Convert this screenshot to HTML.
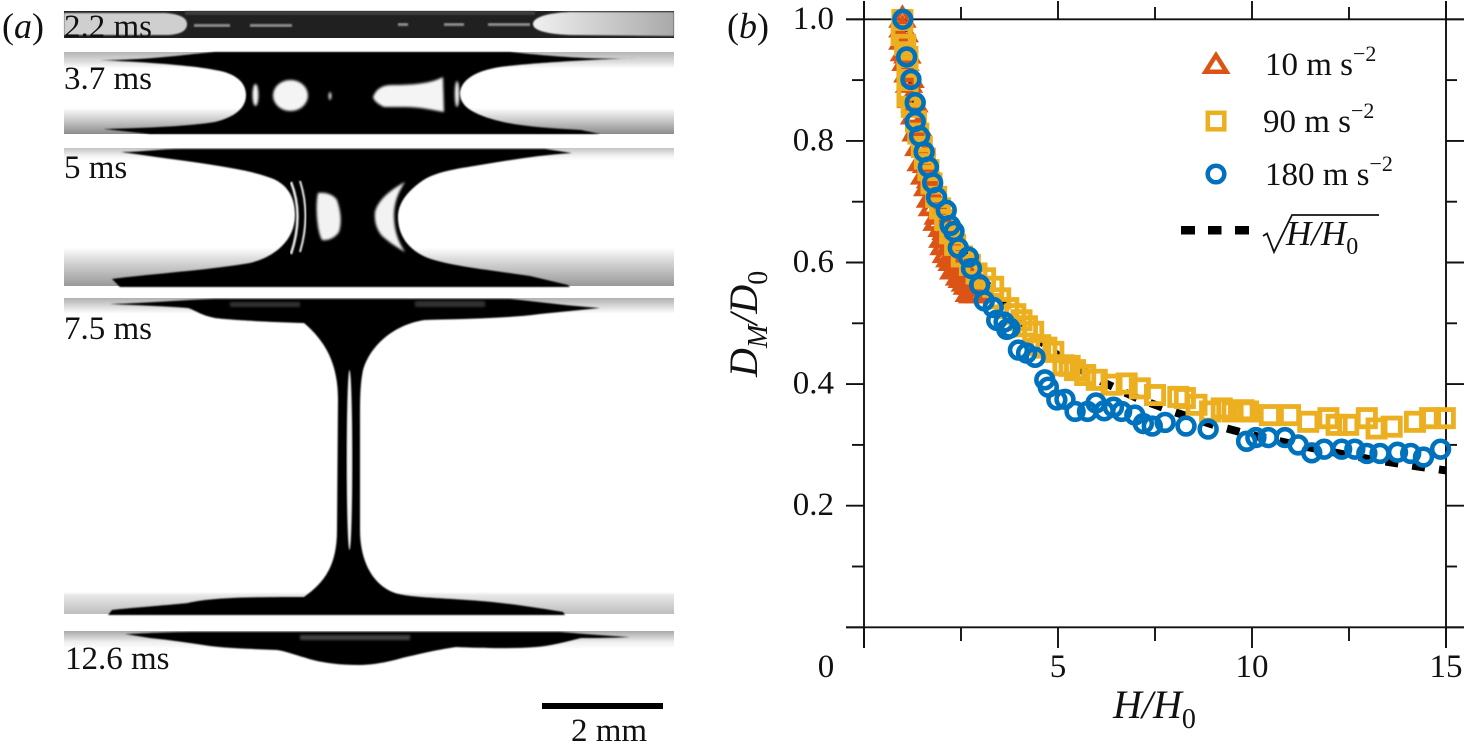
<!DOCTYPE html>
<html lang="en">
<head>
<meta charset="utf-8">
<title>Liquid bridge images and neck diameter chart</title>
<style>
html,body{margin:0;padding:0;background:#fff;}
svg{display:block;}
text{font-family:"Liberation Serif",serif;fill:#111;}
.it{font-style:italic;}
</style>
</head>
<body>
<svg id="fig" xmlns="http://www.w3.org/2000/svg" width="1464" height="751" viewBox="0 0 1464 751">
<defs>
<filter id="soft" x="-5%" y="-5%" width="110%" height="110%"><feGaussianBlur stdDeviation="0.8"/></filter>
<filter id="soft2" x="-30%" y="-30%" width="160%" height="160%"><feGaussianBlur stdDeviation="1.2"/></filter>
<linearGradient id="g2" x1="0" y1="0" x2="0" y2="1"><stop offset="0" stop-color="#b5b5b5"/><stop offset=".12" stop-color="#ddd"/><stop offset=".2" stop-color="#fff"/><stop offset=".68" stop-color="#fff"/><stop offset=".82" stop-color="#cfcfcf"/><stop offset="1" stop-color="#8c8c8c"/></linearGradient>
<linearGradient id="g3" x1="0" y1="0" x2="0" y2="1"><stop offset="0" stop-color="#c4c4c4"/><stop offset=".06" stop-color="#f4f4f4"/><stop offset=".09" stop-color="#fff"/><stop offset=".72" stop-color="#fff"/><stop offset=".8" stop-color="#dedede"/><stop offset="1" stop-color="#999"/></linearGradient>
<linearGradient id="g4" x1="0" y1="0" x2="0" y2="1"><stop offset="0" stop-color="#b0b0b0"/><stop offset=".035" stop-color="#e8e8e8"/><stop offset=".05" stop-color="#fff"/><stop offset=".93" stop-color="#fff"/><stop offset=".94" stop-color="#e8e8e8"/><stop offset="1" stop-color="#bdbdbd"/></linearGradient>
<linearGradient id="g5" x1="0" y1="0" x2="0" y2="1"><stop offset="0" stop-color="#a8a8a8"/><stop offset=".6" stop-color="#eee"/><stop offset="1" stop-color="#fff"/></linearGradient>
<linearGradient id="g1r" x1="0" y1="0" x2="1" y2="0"><stop offset="0" stop-color="#f0f0f0"/><stop offset="1" stop-color="#a9a9a9"/></linearGradient>
</defs>

<g>
  <text x="2" y="38" font-size="36">(<tspan class="it">a</tspan>)</text>

  <g>
    <rect x="64" y="11" width="610" height="27" fill="#202020"/>
    <rect x="185" y="11" width="350" height="4" fill="#3c3c3c" filter="url(#soft)"/>
    <path d="M64 13H165C180 14 187 18 187 24C187 31 180 35 165 35H64Z" fill="#cfcfcf" filter="url(#soft)"/>
    <path d="M674 12H570C545 13 533 18 533 24C533 30 545 34 570 35L674 36Z" fill="url(#g1r)" filter="url(#soft)"/>
    <g fill="#8a8a8a" filter="url(#soft)">
      <rect x="194" y="24" width="36" height="3"/><rect x="250" y="24" width="42" height="3"/><rect x="398" y="23" width="10" height="3"/><rect x="444" y="23" width="20" height="3"/><rect x="488" y="23" width="42" height="3"/>
    </g>
  </g>

  <g>
    <rect x="64" y="52" width="610" height="82" fill="url(#g2)"/>
    <path d="M100 60C150 60 180 55 215 52L510 52C550 56 590 60 640 58C600 59 530 63 500 67C475 71 461 80 460 93C460 105 470 113 495 120C520 127 550 128 581 130L600 134L150 134L103 129C150 128 190 126 215 122C235 117 246 108 246 95C246 82 235 73 215 70C190 65 140 62 100 60Z" fill="#000" filter="url(#soft)"/>
    <g fill="#f4f4f4" filter="url(#soft2)">
      <ellipse cx="255.500" cy="95" rx="3" ry="11"/>
      <ellipse cx="290.500" cy="95.500" rx="17.500" ry="15.500"/>
      <path d="M373 97C376 89 382 85 392 85C410 85 430 84 443 77L444 112C432 110 420 107 405 107L384 107C378 104 374 101 373 97Z"/>
      <ellipse cx="457" cy="94" rx="2.200" ry="13"/>
      <ellipse cx="330" cy="96" rx="1.300" ry="4"/>
    </g>
  </g>

  <g>
    <rect x="64" y="148" width="610" height="138" fill="url(#g3)"/>
    <path d="M121 152C140 152 160 149 180 149L545 149L572 153C540 155 510 160 480 165C455 169 435 172 422 181C405 193 398 205 398 217C398 235 408 250 428 258C450 266 490 270 530 276L568 285L570 287L120 287L112 279C150 274 210 270 250 263C275 257 295 240 295 215C295 198 288 183 268 177C240 167 190 162 121 152Z" fill="#000" filter="url(#soft)"/>
    <g fill="#f2f2f2" filter="url(#soft2)">
      <path d="M318 193C325 192 333 194 337 200C341 212 342 222 339 232C335 238 328 241 322 240C317 232 315 205 318 193Z"/>
      <path d="M405 182C390 190 378 200 375 212C374 222 377 230 382 236C390 243 398 248 405 252C397 240 394 228 394 215C394 204 398 192 405 182Z"/>
    </g>
    <g fill="none" stroke="#f0f0f0" filter="url(#soft)">
      <path d="M291 182Q304 215 291 254" stroke-width="2.500"/>
      <path d="M300 181Q311 215 300 252" stroke-width="2"/>
    </g>
  </g>

  <g>
    <rect x="64" y="298" width="610" height="316" fill="url(#g4)"/>
    <path d="M110 304C150 303 180 300 215 299L510 299C540 302 570 306 600 308C580 310 560 312 540 314C510 318 470 319 425 320C395 324 370 345 363 370C360 385 360 400 360 420L360 530C360 560 372 585 395 593C410 598 450 598 492 602C520 605 545 609 563 612L565 615L108 615L112 610C140 607 170 605 188 603C210 598 240 597 304 597C325 582 337 565 337 530L338 400C338 370 330 345 304 323C270 322 230 320 215 318C200 315 195 310 188 308C160 306 130 305 110 304Z" fill="#000" filter="url(#soft)"/>
    <ellipse cx="349.500" cy="460" rx="2.800" ry="90" fill="#f2f2f2" filter="url(#soft)"/>
    <rect x="230" y="302" width="70" height="5" fill="#333" filter="url(#soft2)"/>
    <rect x="415" y="301" width="70" height="6" fill="#333" filter="url(#soft2)"/>
  </g>

  <g>
    <rect x="64" y="631" width="610" height="18" fill="url(#g5)"/>
    <path d="M125 634C150 633 170 632 200 632L560 632C585 634 610 636 630 637C610 638 595 638 581 638C565 642 550 646 536 647C510 649 480 648 456 647C435 650 415 655 402 658C385 663 370 665 358 665C340 665 325 663 313 660C295 655 285 651 277 650C250 649 225 648 210 646C190 643 170 640 150 638Z" fill="#000" filter="url(#soft)"/>
    <rect x="300" y="635" width="110" height="5" fill="#444" filter="url(#soft2)"/>
  </g>

  <text x="64" y="37" font-size="33">2.2 ms</text>
  <text x="64" y="89" font-size="33">3.7 ms</text>
  <text x="64" y="178" font-size="33">5 ms</text>
  <text x="64" y="339" font-size="33">7.5 ms</text>
  <text x="65" y="669" font-size="33">12.6 ms</text>
  <rect x="542" y="703" width="121" height="6" fill="#000"/>
  <text x="609" y="741" font-size="33" text-anchor="middle">2 mm</text>
</g>

<g id="chart">
  <text x="727" y="38" font-size="36">(<tspan class="it">b</tspan>)</text>
  <text x="1113" y="718" font-size="40" class="it">H/H<tspan font-size="28" dy="10" style="font-style:normal">0</tspan></text>
  <text transform="translate(757,377) rotate(-90)" font-size="40" class="it">D<tspan font-size="28" dy="10">M</tspan><tspan dy="-10">/D</tspan><tspan font-size="28" dy="10" style="font-style:normal">0</tspan></text>
  <g id="axes"></g>
  <g id="marks"></g>
  <g>
    <path d="M1216 55.200L1226.500 71.800L1205.500 71.800Z" fill="none" stroke="#dc5316" stroke-width="4.500"/>
    <text x="1265" y="75" font-size="33">10 m s<tspan font-size="22" dy="-14">−2</tspan></text>
    <rect x="1207.800" y="112.800" width="16.500" height="16.500" fill="none" stroke="#ecaf1f" stroke-width="4.500"/>
    <text x="1263" y="132" font-size="33">90 m s<tspan font-size="22" dy="-14">−2</tspan></text>
    <circle cx="1216" cy="174" r="8.300" fill="none" stroke="#0072bd" stroke-width="4.500"/>
    <text x="1265" y="185" font-size="33">180 m s<tspan font-size="22" dy="-14">−2</tspan></text>
    <g fill="#000">
      <rect x="1181" y="226" width="14" height="8.500"/><rect x="1208" y="226" width="13.500" height="8.500"/><rect x="1235" y="226" width="14" height="8.500"/>
    </g>
    <path d="M1263 236L1267 233.500L1274 252L1292 215H1379" fill="none" stroke="#111" stroke-width="1.800"/>
    <text x="1286" y="245" font-size="35" class="it">H/H<tspan font-size="24" dy="9" style="font-style:normal">0</tspan></text>
  </g>
</g>
</svg>
<script>
var xTickValues = [0, 2.5, 5, 7.5, 10, 12.5, 15];
var yTickValues = [0, 0.1, 0.2, 0.3, 0.4, 0.5, 0.6, 0.7, 0.8, 0.9, 1.0];
var xTickLabels = ["0", "", "5", "", "10", "", "15"];
var yTickLabels = ["", "", "0.2", "", "0.4", "", "0.6", "", "0.8", "", "1.0"];

var guideH = [1, 1.25, 1.5, 2, 2.5, 3, 4, 5, 6, 7, 8, 9, 10, 11, 12, 13, 14, 15];
var guideD = [1, 0.894, 0.816, 0.707, 0.632, 0.577, 0.5, 0.447, 0.408, 0.378, 0.354, 0.333, 0.316, 0.302, 0.289, 0.277, 0.267, 0.258];

var triH = [0.99, 0.99, 0.99, 1.03, 1.07, 1.12, 1.16, 1.21, 1.29, 1.33, 1.40, 1.46, 1.55, 1.63, 1.70, 1.75, 1.87, 2.02, 2.11, 2.26, 2.41, 2.52, 2.80, 2.65, 2.79, 2.90, 2.95, 1.05, 1.12, 1.2, 1.3, 1.4, 1.5, 1.6, 1.7, 1.8, 1.95, 2.1, 2.25, 2.4, 2.55, 2.7, 2.85, 2.05, 2.2, 2.3, 2.35, 2.45, 2.5, 2.6, 2.75, 2.0, 1.9, 2.7, 3.0];
var triD = [0.999, 0.983, 0.963, 0.944, 0.928, 0.909, 0.892, 0.867, 0.840, 0.812, 0.788, 0.763, 0.741, 0.722, 0.703, 0.689, 0.665, 0.637, 0.612, 0.599, 0.585, 0.571, 0.546, 0.560, 0.546, 0.546, 0.546, 0.975, 0.94, 0.9, 0.86, 0.82, 0.79, 0.76, 0.735, 0.705, 0.68, 0.65, 0.63, 0.61, 0.595, 0.575, 0.56, 0.625, 0.605, 0.585, 0.6, 0.575, 0.59, 0.565, 0.56, 0.655, 0.675, 0.548, 0.56];

var squareH = [0.99, 0.97, 1.06, 1.12, 1.12, 1.12, 1.12, 1.23, 1.34, 1.40, 1.49, 1.57, 1.66, 1.74, 1.86, 1.96, 2.09, 2.22, 2.35, 2.52, 2.73, 2.90, 3.12, 3.33, 3.51, 3.72, 3.90, 4.06, 4.20, 4.36, 4.54, 4.70, 4.88, 5.14, 5.30, 5.44, 5.70, 6.00, 6.38, 6.77, 7.11, 7.50, 8.10, 8.27, 8.57, 8.92, 9.22, 9.50, 9.78, 9.90, 10.46, 10.98, 11.45, 11.97, 12.18, 12.48, 12.96, 13.21, 13.60, 14.20, 14.59, 14.97];
var squareD = [0.999, 0.974, 0.958, 0.938, 0.922, 0.900, 0.873, 0.856, 0.832, 0.812, 0.790, 0.771, 0.752, 0.730, 0.708, 0.689, 0.670, 0.648, 0.629, 0.610, 0.596, 0.582, 0.574, 0.560, 0.541, 0.525, 0.515, 0.505, 0.495, 0.486, 0.464, 0.460, 0.453, 0.431, 0.430, 0.423, 0.415, 0.407, 0.399, 0.401, 0.393, 0.382, 0.379, 0.377, 0.366, 0.355, 0.360, 0.355, 0.357, 0.355, 0.349, 0.349, 0.338, 0.344, 0.333, 0.333, 0.344, 0.327, 0.330, 0.338, 0.344, 0.344];

var circleH = [1.00, 1.10, 1.21, 1.32, 1.32, 1.43, 1.55, 1.66, 1.77, 1.87, 2.12, 2.22, 2.32, 2.43, 2.69, 2.77, 2.98, 3.10, 3.33, 3.42, 3.61, 3.68, 3.76, 3.98, 4.19, 4.41, 4.66, 4.75, 4.97, 5.18, 5.44, 5.76, 5.98, 6.19, 6.43, 6.64, 6.98, 7.20, 7.43, 7.76, 8.30, 8.87, 9.86, 10.10, 10.42, 10.85, 11.19, 11.54, 11.86, 12.31, 12.65, 12.96, 13.30, 13.75, 14.09, 14.42, 14.86];
var circleD = [1.000, 0.938, 0.901, 0.863, 0.832, 0.808, 0.782, 0.757, 0.731, 0.707, 0.686, 0.661, 0.651, 0.624, 0.609, 0.590, 0.563, 0.537, 0.526, 0.505, 0.502, 0.490, 0.492, 0.456, 0.451, 0.444, 0.407, 0.395, 0.374, 0.375, 0.355, 0.355, 0.369, 0.356, 0.362, 0.355, 0.349, 0.335, 0.331, 0.337, 0.331, 0.326, 0.306, 0.312, 0.312, 0.312, 0.300, 0.287, 0.293, 0.293, 0.293, 0.286, 0.286, 0.288, 0.286, 0.280, 0.293];

var NS = "http://www.w3.org/2000/svg";
var plotLeft = 864, plotRight = 1446, plotTop = 19.3, plotBottom = 627.3;
function xPos(v) { return plotLeft + (v / 15) * (plotRight - plotLeft); }
function yPos(v) { return plotBottom - v * (plotBottom - plotTop); }
function make(tag, attrs, parent) {
  var el = document.createElementNS(NS, tag);
  for (var k in attrs) { el.setAttribute(k, attrs[k]); }
  parent.appendChild(el);
  return el;
}
var axes = document.getElementById("axes");
var marks = document.getElementById("marks");
var axisStyle = { stroke: "#111", "stroke-width": 1.9 };
function line(x1, y1, x2, y2, parent, name) {
  var el = make("line", { x1: x1, y1: y1, x2: x2, y2: y2, stroke: axisStyle.stroke, "stroke-width": axisStyle["stroke-width"] }, parent);
  
  
  return el;
}
line(846, plotTop, 1464, plotTop, axes, "top-axis-line");
line(846, plotBottom, 1464, plotBottom, axes, "bottom-axis-line");
line(plotLeft, 1, plotLeft, 648, axes, "left-axis-line");
line(plotRight, 1, plotRight, 648, axes, "right-axis-line");
xTickValues.forEach(function (v, i) {
  var major = xTickLabels[i] !== "";
  var x = xPos(v);
  line(x, plotBottom, x, major ? 648 : 641, axes, "x-tick-bottom");
  line(x, plotTop, x, major ? 1 : 7, axes, "x-tick-top");
  if (major) {
    var t = make("text", { x: v === 0 ? 826 : x, y: 677, "font-size": 33, "text-anchor": "middle" }, axes);
    t.textContent = xTickLabels[i];
    
    
  }
});
yTickValues.forEach(function (v, i) {
  var major = i % 2 === 0;
  var y = yPos(v);
  line(major ? 846 : 852, y, plotLeft, y, axes, "y-tick-left");
  line(plotRight, y, major ? 1464 : 1457, y, axes, "y-tick-right");
  if (yTickLabels[i]) {
    var t = make("text", { x: 834, y: y + 9.5, "font-size": 33, "text-anchor": "end" }, axes);
    t.textContent = yTickLabels[i];
    
    
  }
});

var guide = make("polyline", {
  points: guideH.map(function (h, i) { return xPos(h) + "," + yPos(guideD[i]); }).join(" "),
  fill: "none", stroke: "#000", "stroke-width": 8, "stroke-dasharray": "13 14"
}, marks);



triH.forEach(function (h, i) {
  var x = xPos(h), y = yPos(triD[i]);
  var p = make("path", {
    d: "M" + x + " " + (y - 11) + "L" + (x + 10) + " " + (y + 5.5) + "L" + (x - 10) + " " + (y + 5.5) + "Z",
    fill: "none", stroke: "#dc5316", "stroke-width": 4.8
  }, marks);
  
  
});
squareH.forEach(function (h, i) {
  var x = xPos(h), y = yPos(squareD[i]);
  var r = make("rect", {
    x: x - 8.6, y: y - 8.6, width: 17.2, height: 17.2,
    fill: "none", stroke: "#ecaf1f", "stroke-width": 4.8
  }, marks);
  
  
});
circleH.forEach(function (h, i) {
  var c = make("circle", {
    cx: xPos(h), cy: yPos(circleD[i]), r: 8.4,
    fill: "none", stroke: "#0072bd", "stroke-width": 4.6
  }, marks);
  
  
});
</script>
</body>
</html>
